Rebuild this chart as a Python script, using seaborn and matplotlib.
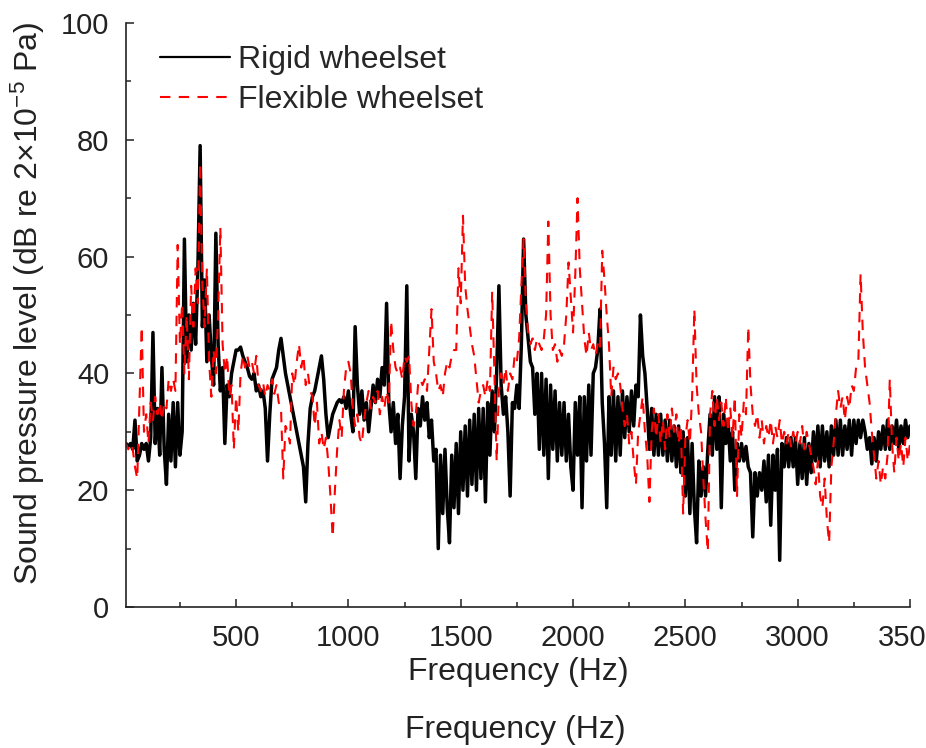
import pandas as pd
import matplotlib
matplotlib.use("Agg")
import matplotlib.pyplot as plt
import seaborn as sns
from matplotlib.ticker import MultipleLocator
from matplotlib.lines import Line2D

# frequency grid (Hz), 10 Hz steps
freq = list(range(0, 3510, 10))

# Rigid wheelset SPL (dB)
rigid = [
    28, 28, 27.5, 28, 27, 32, 25, 26, 28, 27,
    28, 25, 29, 47, 28, 34, 26, 41, 27, 21,
    33, 25, 35, 24, 35, 26, 30, 63, 42, 50,
    44, 52, 45, 58, 79, 48, 56, 42, 50, 43,
    38, 64, 45, 37, 41, 28, 38, 36, 40, 42,
    44, 44, 44.5, 43, 42, 41, 39.5, 39, 40, 37,
    38, 36, 37, 34, 25, 33, 39, 40, 41, 44,
    46, 43, 40, 38, 36, 34, 32, 30, 28, 26,
    24, 18, 28, 34, 36, 37, 39, 41, 43, 39,
    33, 29, 31, 33, 34, 35, 35.5, 35, 36, 34,
    37, 33, 30, 48, 38, 33, 37, 32, 35, 30,
    34, 38, 35, 39, 36, 41, 38, 52, 35, 30,
    35, 28, 33, 22, 31, 36, 55, 25, 33, 30,
    22, 34, 31, 36, 32, 35, 29, 32, 25, 27,
    10, 26, 16, 27, 17, 11, 26, 17, 28, 16,
    30, 20, 31, 19, 32, 21, 33, 20, 34, 22,
    34, 18, 35, 26, 37, 30, 40, 55, 38, 33,
    36, 30, 19, 35, 34, 38, 34, 45, 63, 50,
    46, 42, 41, 33, 40, 27, 40, 26, 39, 22,
    38, 27, 37, 25, 35, 26, 35, 25, 33, 24,
    20, 35, 26, 36, 17, 36, 25, 38, 26, 40,
    41, 44, 51, 35, 28, 17, 36, 26, 37, 25,
    36, 26, 37, 29, 36, 30, 37, 31, 38, 36,
    50, 43, 40, 34, 27, 34, 26, 33, 26, 33,
    26, 32, 25, 32, 25, 31, 24, 31, 23, 30,
    19, 29, 16, 28, 17, 11, 25, 19, 24, 19,
    27, 33, 26, 36, 27, 36, 17, 33, 28, 32,
    25, 30, 20, 28, 25, 28, 25, 27.5, 24, 23,
    12, 23, 19, 23, 20, 25, 18, 26, 14, 26,
    20, 27, 8, 28, 24, 29, 24, 29, 24, 29,
    21, 28, 22, 29, 21, 28, 23, 30, 25, 31,
    24, 31, 25, 30, 24, 31, 26, 32, 26, 32,
    26, 31, 27, 32, 26, 32, 28, 32, 29, 32,
    30, 27, 29, 24.5, 29, 25, 30, 27, 31, 27,
    32, 27, 31, 28, 32, 27, 31, 28, 32, 29,
    31,
]

# Flexible wheelset SPL (dB)
flexible = [
    28, 28, 27, 28, 27, 24, 22, 35, 48, 30,
    33, 28, 35, 32, 36, 33, 35, 32, 35, 34,
    39, 37, 39, 37, 62, 45, 52, 40, 50, 39,
    55, 48, 58, 52, 76, 55, 48, 58, 42, 36,
    44, 40, 50, 65, 45, 40, 43, 36, 38, 27,
    36, 30, 40, 43, 41, 43, 41, 42, 40, 43,
    38, 37, 38.5, 36, 38, 37, 39, 36.5, 38, 35,
    34, 22, 31, 30, 28, 40, 38, 42, 45, 41,
    43, 38, 40, 37, 36, 31, 35, 28, 30, 27,
    29, 25, 19, 12, 20, 27, 32, 29, 37, 41,
    42, 40, 34, 31, 33, 29, 28, 32, 35, 37,
    34, 36, 35, 37, 33, 36, 34, 37, 35, 49,
    44, 41, 40, 41, 39, 43, 42, 43, 35, 31,
    33, 38, 39, 38, 39, 37, 44, 51, 42, 40,
    37, 38, 36, 40, 42, 41, 43, 44, 44, 58,
    52, 67, 55, 51, 48, 45, 43, 39, 35, 37,
    38, 36, 39, 37, 54, 40, 25, 37, 40, 38,
    41, 37, 40, 39, 43, 42, 46, 55, 63, 52,
    47, 45, 46, 44, 46, 45, 44, 46, 50, 66,
    50, 44, 45, 42, 44, 43, 45, 50, 59, 53,
    47, 57, 70, 58, 52, 46, 43, 47, 44, 45,
    43, 45, 44, 61, 56, 50, 45, 36, 41, 39,
    40, 38, 34, 31, 33, 28, 30, 25, 21, 30,
    33, 36, 30, 26, 18, 30, 34, 29, 33, 28,
    32, 27, 33, 29, 34, 30, 33, 28, 31, 16,
    29, 32, 28, 36, 51, 38, 33, 30, 22, 15,
    9.5, 33, 37, 31, 36, 32, 35, 31, 36, 30,
    34, 29, 36, 19, 33, 29, 35, 33, 48, 38,
    33, 31, 33, 29, 32, 28, 31, 29, 32, 28,
    31, 29, 32, 28, 30, 28, 30, 27.5, 30, 28,
    30, 28, 31, 27, 30, 28, 26, 24, 21, 25,
    19, 17, 22, 15, 11, 24, 28, 33, 37, 34,
    36, 32, 36, 34, 38, 37, 41, 42, 57, 47,
    41, 38, 35, 30, 26, 22, 25, 21, 24, 22,
    26, 39, 28, 23, 29, 25, 28, 24, 29, 25,
    28,
]

names = ["Rigid wheelset", "Flexible wheelset"]

sns.set_style("ticks")
plt.rcParams["font.family"] = ["Liberation Sans", "DejaVu Sans"]
plt.rcParams["mathtext.fontset"] = "custom"
plt.rcParams["mathtext.rm"] = "Liberation Sans"
plt.rcParams["mathtext.it"] = "Liberation Sans:italic"

fig = plt.figure(figsize=(9.26, 7.48), dpi=100)
ax = fig.add_axes([126 / 926, 1 - 607 / 748, 784 / 926, 584 / 748])

# rigid drawn first (solid, heavier so the dense parts fill in)
sns.lineplot(x=freq, y=rigid, color="black", linewidth=2.5,
             estimator=None, sort=False, ax=ax)
sns.lineplot(x=freq, y=flexible, color="red", linewidth=1.5,
             linestyle=(0, (5, 4)), estimator=None, sort=False, ax=ax)

ax.set_xlim(10, 3500)
ax.set_ylim(0, 100)
ax.set_xticks(range(500, 3501, 500))
ax.set_yticks(range(0, 101, 20))
ax.xaxis.set_minor_locator(MultipleLocator(250))
ax.yaxis.set_minor_locator(MultipleLocator(10))
ax.tick_params(which="major", direction="in", length=6, width=1.1,
               labelsize=21, pad=12, colors="#222222")
ax.tick_params(which="minor", direction="in", length=3.5, width=1.1)
sns.despine(ax=ax)
for s in ["left", "bottom"]:
    ax.spines[s].set_linewidth(1.2)
    ax.spines[s].set_color("#222222")

ax.set_xlabel("Frequency (Hz)", fontsize=23, labelpad=4, color="#222222")
ax.set_ylabel("Sound pressure level (dB re 2×10$^{-5}$ Pa)", fontsize=23,
              color="#222222")
ax.yaxis.set_label_coords(-0.101, 0.52)

handles = [Line2D([], [], color="black", linewidth=1.6),
           Line2D([], [], color="red", linewidth=1.5, linestyle=(0, (5, 4)))]
ax.legend(handles, names, loc="upper left", bbox_to_anchor=(0.043, 0.962),
          frameon=False, fontsize=23, handlelength=2.2, handletextpad=0.25,
          labelspacing=0.32, borderaxespad=0, borderpad=0)

fig.text(515 / 926, 1 - 730 / 748, "Frequency (Hz)", ha="center", va="center",
         fontsize=23, color="#222222")

fig.savefig("out.png", dpi=100)
